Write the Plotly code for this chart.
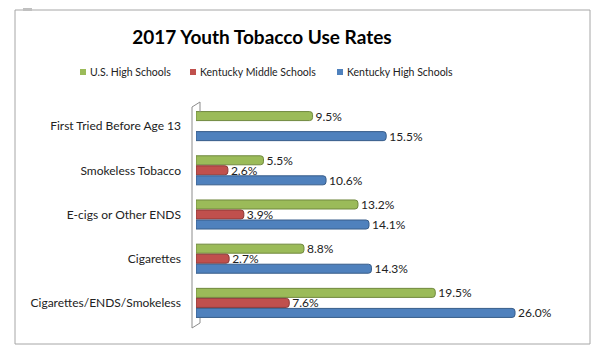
import plotly.graph_objects as go

categories = ["First Tried Before Age 13", "Smokeless Tobacco", "E-cigs or Other ENDS",
              "Cigarettes", "Cigarettes/ENDS/Smokeless"]
us_high = [9.5, 5.5, 13.2, 8.8, 19.5]
ky_middle = [None, 2.6, 3.9, 2.7, 7.6]
ky_high = [15.5, 10.6, 14.1, 14.3, 26.0]
series_names = ["U.S. High Schools", "Kentucky Middle Schools", "Kentucky High Schools"]
colors = ["#9BBB59", "#C0504D", "#4F81BD"]
line_colors = ["#71893F", "#8C3836", "#385D8A"]

# page body has an 8px margin; work in reference pixel coords and shift
OFF = 8
W, H = 605 - OFF, 363 - OFF
L = 196 - OFF
T = 104 - OFF
R = W - (566 - OFF)
B = H - (325 - OFF)
pw, ph = W - L - R, H - T - B


def px(x):
    return (x - OFF - L) / pw


def py(y):
    return (H - B - (y - OFF)) / ph


fig = go.Figure()
for name, vals, c, lc in zip(series_names, [us_high, ky_middle, ky_high], colors, line_colors):
    fig.add_trace(go.Bar(
        y=categories, x=vals, name=name, orientation="h", showlegend=False,
        marker=dict(color=c, line=dict(color=lc, width=1), cornerradius=3),
        text=[f"{v:.1f}%" if v is not None else "" for v in vals],
        textposition="outside", cliponaxis=False, constraintext="none",
        textfont=dict(family="Lato", size=12, color="#222"),
    ))

shapes = [
    # outer border
    dict(type="rect", xref="paper", yref="paper", x0=px(15), x1=px(590), y0=py(344), y1=py(10),
         line=dict(color="#a6a6a6", width=1)),
    # small gray tab
    dict(type="rect", xref="paper", yref="paper", x0=px(23), x1=px(32), y0=py(11), y1=py(8),
         line=dict(width=0), fillcolor="#c0c0c0"),
    # 3D wall
    dict(type="path", xref="paper", yref="paper",
         path=f"M {px(192)} {py(328)} L {px(192)} {py(107)} L {px(200)} {py(102)} L {px(200)} {py(112)}",
         line=dict(color="#8c8c8c", width=1)),
    dict(type="path", xref="paper", yref="paper",
         path=f"M {px(192)} {py(328)} L {px(200)} {py(323)} L {px(200)} {py(318)}",
         line=dict(color="#8c8c8c", width=1)),
]

# manual legend
legend_sq_x = [80, 190, 337]
annotations = []
for name, c, sx in zip(series_names, colors, legend_sq_x):
    shapes.append(dict(type="rect", xref="paper", yref="paper",
                       x0=px(sx), x1=px(sx + 6), y0=py(75), y1=py(69),
                       line=dict(width=0), fillcolor=c))
    annotations.append(dict(text=name, xref="paper", yref="paper", x=px(sx + 8), y=py(72),
                            xanchor="left", yanchor="middle", showarrow=False,
                            font=dict(family="Lato", size=10.5, color="#222")))

fig.update_layout(
    width=W, height=H,
    margin=dict(l=L, r=R, t=T, b=B, autoexpand=False),
    paper_bgcolor="white", plot_bgcolor="white",
    barmode="group", bargap=0.32, bargroupgap=0.1,
    showlegend=False,
    title=dict(text="<b>2017 Youth Tobacco Use Rates</b>", x=(262 - OFF) / W, xanchor="center",
               xref="container", y=1 - (37 - OFF) / H, yanchor="middle",
               font=dict(family="Lato", size=19, color="#000")),
    xaxis=dict(range=[0, pw / 12.27], visible=False, showgrid=False, zeroline=False,
               automargin=False),
    yaxis=dict(autorange="reversed", showgrid=False, showline=False, ticks="",
               automargin=False,
               ticklabelstandoff=14, tickfont=dict(family="Lato", size=12, color="#222")),
    shapes=shapes,
    annotations=annotations,
    font=dict(family="Lato"),
)

fig.write_html("out.html")
